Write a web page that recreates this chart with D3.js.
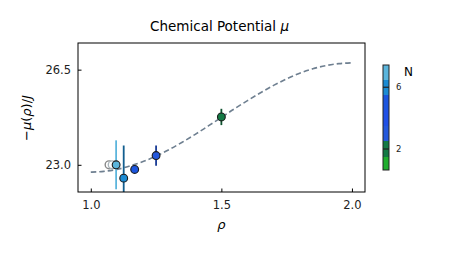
<!DOCTYPE html>
<html>
<head>
<meta charset="utf-8">
<script src="https://cdn.jsdelivr.net/npm/d3@7"></script>
<style>
  html, body { margin: 0; padding: 0; background: #fff; }
  svg text { font-family: "DejaVu Sans", sans-serif; }
</style>
</head>
<body>
<div id="chart"></div>
<script>
// fitted curve
var fitRho = [1.00, 1.05, 1.10, 1.15, 1.20, 1.25, 1.30, 1.35, 1.40, 1.45, 1.50,
              1.55, 1.60, 1.65, 1.70, 1.75, 1.80, 1.85, 1.90, 1.95, 2.00];
var fitMu = [22.73, 22.76, 22.83, 22.96, 23.12, 23.32, 23.56, 23.83, 24.12, 24.43, 24.74,
             25.06, 25.36, 25.65, 25.92, 26.16, 26.37, 26.53, 26.65, 26.72, 26.75];

// measured points (drawn in this order)
var ptRho = [1.07, 1.082, 1.097, 1.126, 1.168, 1.25, 1.5];
var ptMu = [23.0, 23.0, 23.0, 22.51, 22.83, 23.34, 24.76];
var ptErr = [0, 0, 0.9, 1.2, 0.05, 0.37, 0.3];
var ptN = [9, 8, 7, 6, 5, 3, 2];

// colour levels for N
var nLevels = [1, 2, 3, 4, 5, 6, 7];
var nColors = ['#1fae2e', '#147a45', '#2458dc', '#1f4fe6', '#1b55de', '#1b8bd3', '#5bb5dc'];

var xTicks = [1.0, 1.5, 2.0];
var yTicks = [23.0, 26.5];
var cbTicks = [2, 6];

var W = 457, H = 254;
var margin = { left: 78, right: 92, top: 43, bottom: 62 };

var svg = d3.select('#chart').append('svg').attr('width', W).attr('height', H);

var x = d3.scaleLinear().domain([0.951, 2.05]).range([margin.left, W - margin.right]);
var y = d3.scaleLinear().domain([22.0, 27.48]).range([H - margin.bottom, margin.top]);
var nColor = d3.scaleOrdinal().domain(nLevels).range(nColors);

svg.append('defs').append('clipPath').attr('id', 'clip')
  .append('rect')
  .attr('x', margin.left).attr('y', margin.top)
  .attr('width', W - margin.left - margin.right)
  .attr('height', H - margin.top - margin.bottom);

// title
svg.append('text')
  .attr('x', (margin.left + W - margin.right) / 2 - 2).attr('y', 31)
  .attr('text-anchor', 'middle').attr('font-size', 13.5).attr('fill', '#000')
  .text('Chemical Potential ')
  .append('tspan').attr('font-style', 'italic').text('μ');

// axes (ticks inward)
function styleAxis(g) {
  g.select('.domain').remove();
  g.selectAll('line').attr('stroke', '#000');
  g.selectAll('text').attr('font-size', 11.5).attr('fill', '#222');
}
svg.append('g')
  .attr('transform', 'translate(0,' + (H - margin.bottom) + ')')
  .call(d3.axisBottom(x).tickValues(xTicks).tickFormat(d3.format('.1f')).tickSizeInner(-3.5).tickSizeOuter(0).tickPadding(9))
  .call(styleAxis);
svg.append('g')
  .attr('transform', 'translate(' + margin.left + ',0)')
  .call(d3.axisLeft(y).tickValues(yTicks).tickFormat(d3.format('.1f')).tickSizeInner(-3.5).tickSizeOuter(0).tickPadding(7))
  .call(styleAxis);

var plot = svg.append('g').attr('clip-path', 'url(#clip)');

// dashed fit
var line = d3.line()
  .x(function (d, i) { return x(fitRho[i]); })
  .y(function (d) { return y(d); })
  .curve(d3.curveMonotoneX);
plot.append('path').datum(fitMu)
  .attr('fill', 'none').attr('stroke', '#6e7f90').attr('stroke-width', 1.6)
  .attr('stroke-dasharray', '5.5,3').attr('d', line);

// points with error bars
ptRho.forEach(function (r, i) {
  var n = ptN[i];
  var open = n > nLevels[nLevels.length - 1];
  var c = open ? null : nColor(n);
  if (ptErr[i] > 0) {
    var ec = n === 7 ? c : d3.color(c).darker(1.1).formatHex();
    plot.append('line')
      .attr('x1', x(r)).attr('x2', x(r))
      .attr('y1', y(ptMu[i] - ptErr[i])).attr('y2', y(ptMu[i] + ptErr[i]))
      .attr('stroke', ec).attr('stroke-width', 1.8);
  }
  plot.append('circle')
    .attr('cx', x(r)).attr('cy', y(ptMu[i])).attr('r', 3.9)
    .attr('fill', open ? '#fff' : c)
    .attr('stroke', open ? (n === 9 ? '#888' : '#a9b4ba') : '#1a1a1a')
    .attr('stroke-width', open ? 1.4 : 1.1);
});

// frame
svg.append('rect')
  .attr('x', margin.left).attr('y', margin.top)
  .attr('width', W - margin.left - margin.right)
  .attr('height', H - margin.top - margin.bottom)
  .attr('fill', 'none').attr('stroke', '#000').attr('stroke-width', 1);

// axis labels
svg.append('text')
  .attr('x', (margin.left + W - margin.right) / 2).attr('y', 229)
  .attr('text-anchor', 'middle').attr('font-size', 13).attr('font-style', 'italic')
  .text('ρ');
var yl = svg.append('text')
  .attr('transform', 'translate(31,118) rotate(-90)')
  .attr('text-anchor', 'middle').attr('font-size', 13);
yl.append('tspan').text('−');
yl.append('tspan').attr('font-style', 'italic').text('μ');
yl.append('tspan').text('(');
yl.append('tspan').attr('font-style', 'italic').text('ρ');
yl.append('tspan').text(')/');
yl.append('tspan').attr('font-style', 'italic').text('J');

// colorbar
var cb = { x: 383, w: 6, top: 65, bottom: 170 };
var cy = d3.scaleLinear().domain([0.64, 7.44]).range([cb.bottom, cb.top]);
var cbG = svg.append('g');
cbG.selectAll('rect.seg')
  .data(nLevels)
  .join('rect')
  .attr('class', 'seg')
  .attr('x', cb.x).attr('width', cb.w)
  .attr('y', function (d) { return cy(Math.min(d + 0.5, cy.domain()[1])); })
  .attr('height', function (d) {
    return cy(Math.max(d - 0.5, cy.domain()[0])) - cy(Math.min(d + 0.5, cy.domain()[1]));
  })
  .attr('fill', function (d) { return nColor(d); })
  .attr('shape-rendering', 'crispEdges');
cbG.append('rect')
  .attr('x', cb.x).attr('y', cb.top).attr('width', cb.w).attr('height', cb.bottom - cb.top)
  .attr('fill', 'none').attr('stroke', '#222').attr('stroke-width', 1);
cbG.selectAll('line.tk')
  .data(cbTicks)
  .join('line')
  .attr('class', 'tk')
  .attr('x1', cb.x).attr('x2', cb.x + cb.w)
  .attr('y1', function (d) { return cy(d); }).attr('y2', function (d) { return cy(d); })
  .attr('stroke', '#222').attr('stroke-width', 1.2);
cbG.selectAll('text.tl')
  .data(cbTicks)
  .join('text')
  .attr('class', 'tl')
  .attr('x', cb.x + cb.w + 7).attr('y', function (d) { return cy(d); })
  .attr('dy', '0.35em').attr('font-size', 8.5).attr('fill', '#222')
  .text(function (d) { return d; });
svg.append('text')
  .attr('x', 404).attr('y', 76)
  .attr('font-size', 12).attr('fill', '#000')
  .text('N');
</script>
</body>
</html>
